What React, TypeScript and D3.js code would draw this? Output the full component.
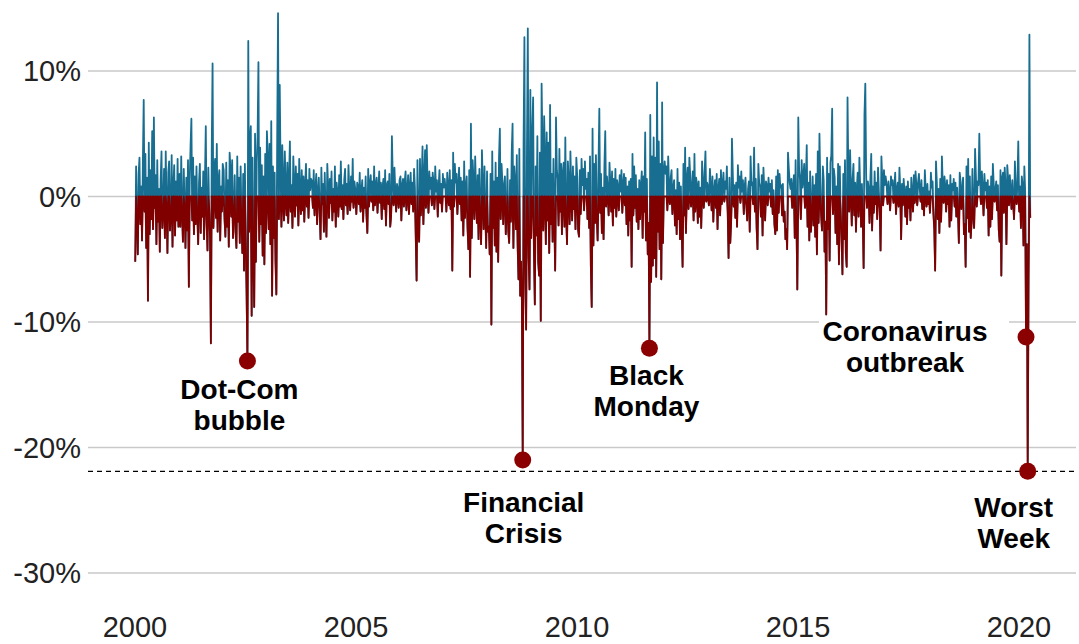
import React from "react";
import * as d3 from "d3";

// ---------- data (weekly returns, %) ----------
const yearTicks = [2000, 2005, 2010, 2015, 2020];
const pctTicks = [10, 0, -10, -20, -30];

const r2000 = [-5.2, 2.4, -1.5, -4.6, 1.8, 3.1, -2.2, 0.8, -3.5, 2.7, 7.7, -1.2, 3.4, -4.1, 1.5, -8.3, 4.3, -3.0, 2.1, -1.8, 5.2, -2.6, 6.3, -0.9, 1.7, -3.8, 2.9, -2.0, 0.6, -4.4, 1.3, 3.6, -2.5, -1.1, 2.2, -3.3, 3.6, -0.7, -4.5, 1.9, 2.8, -2.7, -1.4, 3.3, -4.0, 0.9, 2.5, -3.1, 1.2, -1.9, 3.0, -2.4];
const r2001 = [1.8, -2.4, 3.2, -1.1, -3.6, 2.2, -0.8, -4.1, 1.5, -2.7, 2.9, -7.2, 1.2, 4.0, 6.2, -1.9, 3.1, -3.0, 1.6, -2.2, 2.4, -1.4, -3.8, 1.1, 2.6, -2.9, 0.7, -1.6, 2.0, -3.4, 1.4, 5.6, -2.1, -4.3, 2.3, -1.0, -3.2, -11.7, 3.6, 10.6, -2.5, 1.9, 3.0, -1.7, 4.2, -2.8, 1.3, 2.1, -3.5, 0.8, -1.2, 2.6];
const r2002 = [2.1, -1.8, -3.2, 2.7, -2.4, 1.3, -4.0, 3.5, 2.2, -1.6, 2.9, -3.3, -1.2, 1.7, -2.8, -4.1, 3.2, -2.0, 1.5, -3.7, 2.4, -1.9, -4.5, 1.8, -5.9, 2.6, -3.5, -7.6, -13.1, 12.4, -2.8, 4.5, 5.6, -9.5, 3.1, -4.4, -8.8, 5.0, -5.2, 2.7, 4.8, 10.7, -3.6, 3.9, -2.2, 2.5, -4.7, 1.6, -5.4, 3.4, -2.9, 5.2];
const r2003 = [3.1, -2.6, 4.2, -3.8, 6.0, -7.9, 2.4, -3.3, 1.9, -5.1, -7.8, 4.6, 14.6, -1.8, 8.9, 2.3, -2.4, 4.1, 1.2, -1.9, 3.6, 0.8, -1.5, 2.7, -2.1, 1.4, 4.4, -1.2, 0.9, -2.5, 3.2, 1.1, -1.6, 2.4, -0.7, 1.8, -2.3, 3.0, 0.6, -1.4, 2.1, -1.1, 1.6, -2.0, 0.9, 2.6, -0.8, 1.3, -1.7, 2.2, 0.5, 1.4];
const r2004 = [1.2, -0.9, 2.1, -1.5, 0.7, 1.8, -2.2, 0.4, 1.5, -1.1, -3.4, 2.3, -0.6, 1.0, -2.8, 1.9, -1.3, -3.2, 2.6, 0.8, -1.7, 1.4, -0.5, 2.0, -1.9, 0.6, -1.2, 2.4, -2.4, 1.1, 0.3, -1.6, 1.7, -0.8, 2.8, -1.0, 0.9, -1.8, 1.3, 2.2, -0.7, 1.0, -1.4, 2.5, 0.5, -1.1, 1.6, -0.4, 3.0, -0.9, 1.2, 0.6];
const r2005 = [-1.4, 1.1, 0.8, -0.6, 1.9, -1.2, 0.5, 1.3, -2.0, 0.7, -0.9, 1.6, -1.5, -2.9, 2.2, -0.8, 1.0, 1.7, -0.4, 1.2, -1.1, 2.4, -0.7, 0.9, 1.5, -1.3, 0.6, 2.0, -0.5, 1.1, -1.8, 0.8, 1.4, -1.0, 2.1, -2.3, 0.9, 1.2, -0.6, 1.8, -2.4, -1.6, 4.8, 1.5, -0.7, 2.3, 0.4, -1.2, 1.0, 0.6, -0.9, 1.3];
const r2006 = [1.6, -1.9, 0.9, 1.4, -0.8, 1.2, 2.0, -1.1, 0.5, 1.7, -1.4, 0.8, 1.9, -0.6, 1.1, -1.2, 2.2, 0.7, -3.2, -6.7, 2.9, -2.5, -3.6, 3.0, -1.5, 1.2, 4.0, -2.2, 1.6, 3.7, -0.9, 4.1, 1.0, -1.3, 2.0, 0.6, 1.5, -0.7, 1.9, 1.1, -1.0, 2.4, 0.4, 1.3, -1.6, 0.8, 2.1, -0.5, 1.0, -1.2, 1.8, 0.7];
const r2007 = [1.4, 0.6, -1.2, 1.9, 0.8, -0.7, 2.1, -1.0, 1.3, -5.9, 3.5, -0.8, 2.6, 1.1, 1.8, -1.4, 0.9, 2.3, -0.6, 1.5, -1.9, 1.2, -3.1, 2.8, -1.7, 0.7, 1.6, -2.5, -4.2, 2.1, -6.4, 5.8, -3.3, 2.9, 1.4, -1.8, 3.2, 0.5, -2.1, 1.7, -3.4, 2.2, -1.3, -3.8, 3.7, 1.0, -2.6, 2.4, -1.5, -4.1, 2.0, -2.8];
const r2008 = [-2.4, -4.6, 1.8, -10.2, 3.6, -2.5, 1.2, -3.9, 2.7, -4.4, 1.5, -5.2, 3.1, 5.4, -1.8, 2.6, 1.1, -2.2, 0.9, 1.6, -3.0, -1.4, 2.2, -2.8, -3.7, 1.3, -2.0, 3.5, 5.8, -4.1, 2.4, 1.2, -2.6, 3.3, -3.9, -6.6, 3.8, -7.9, -5.2, -8.3, -21.0, 4.2, 12.7, -6.5, -10.6, 3.7, 13.4, -4.8, -7.4, 8.5, -3.3, 4.6];
const r2009 = [7.9, -4.5, -8.6, 2.4, -3.1, 4.8, -5.2, -6.3, 3.5, -9.9, 9.0, 4.1, -2.7, 6.4, 3.2, -3.8, 5.1, -1.9, 4.3, -4.5, 7.3, -2.2, 1.8, -3.6, 3.0, -1.6, -5.9, 6.3, 2.1, 1.4, -2.3, 3.8, -1.2, 2.6, -3.0, 1.9, 2.7, -2.4, 4.7, -1.5, -3.8, 2.8, 1.3, -2.2, 3.6, 0.8, -1.9, 2.4, -1.0, 1.6, -2.6, 3.1];
const r2010 = [1.5, -2.7, -3.2, 2.1, -1.4, 3.0, 0.9, 2.2, -1.1, 2.8, 0.6, 1.4, -1.8, 1.9, -2.5, 3.2, -5.6, -8.8, 5.4, -3.9, 2.6, -2.1, 3.3, -1.7, -3.5, 2.3, 7.0, -1.3, 1.8, -2.9, 0.7, -3.4, 2.4, 5.2, -0.8, 1.6, 0.5, -1.5, 2.7, 1.1, -1.2, 2.0, -2.3, 1.4, -0.9, 2.2, -1.6, 1.3, 0.8, -1.1, 1.7, 0.4];
const r2011 = [2.1, -1.3, 1.0, 1.8, -0.7, 1.5, -2.2, 0.8, -3.1, 1.2, -1.9, 1.4, -5.6, 3.4, -1.5, 2.4, -0.9, 1.7, -2.0, 0.6, -2.6, 1.3, -1.8, 0.9, 2.0, -3.3, 1.6, -1.2, 5.1, -3.5, 1.4, -4.6, -2.1, -12.1, 6.5, -6.8, 3.2, -5.5, 4.7, -4.9, 3.1, -6.4, 9.1, -2.8, 4.4, -4.2, 2.6, -6.6, 7.5, -3.7, 1.9, 2.8];
const r2012 = [1.8, 2.4, -1.1, 3.2, 0.9, -0.6, 1.5, 2.1, -1.4, 0.7, 1.3, -2.3, 0.5, -3.0, 2.2, -1.8, 1.1, -3.4, 0.8, -2.7, -5.6, 2.6, -1.5, 3.9, -2.9, 1.4, 2.3, -1.0, 3.1, 1.7, -0.8, 0.6, 2.0, -1.9, 3.4, -1.2, 1.5, 0.9, -2.1, 1.2, -1.6, 0.7, -2.5, 2.8, 1.0, -0.9, 1.9, 3.6, -0.4, 1.1, 0.8, -0.7];
const r2013 = [2.2, 0.8, -1.1, 1.6, -2.0, 0.5, 1.3, -0.9, 1.8, -2.6, 0.7, 1.4, -1.5, 2.1, -0.6, 1.0, 1.9, -0.4, 1.2, 0.6, 2.4, -1.3, -4.9, 1.5, -3.7, -2.1, 4.6, 1.8, -0.8, 0.9, -1.7, 1.1, -2.4, 2.5, 0.7, 1.6, -0.5, 2.0, 0.4, 1.3, -1.4, 0.8, 1.5, -0.7, -1.9, 0.6, 1.2, -2.8, 3.2, 0.9, 1.1, -0.6];
const r2014 = [3.9, -1.2, 1.4, -2.5, -4.2, 2.6, 1.1, 0.8, -1.6, 1.7, -3.1, 2.3, 0.6, -1.9, 1.2, 0.9, -0.7, 1.5, 0.4, 1.0, -0.8, 1.3, -1.4, 0.5, -2.2, -3.0, 1.6, -2.7, 2.1, -1.3, 1.8, 0.7, 0.9, -1.5, 1.0, -2.0, -1.2, -3.4, -2.6, -4.2, 3.5, 2.2, 1.1, 0.6, 1.4, -0.9, 0.8, 1.7, -3.3, 2.9, -1.8, -7.4];
const r2015 = [6.3, 2.1, 1.4, -1.8, 2.9, 0.7, 1.5, 2.6, -0.9, 1.3, 4.1, -2.4, 1.1, -3.5, 2.0, -2.8, -1.2, 1.6, -2.3, 0.9, -3.2, 1.8, -4.6, 3.6, -2.1, 5.0, 1.2, -1.5, -2.7, 2.4, 1.3, -4.4, -2.0, -9.4, 3.1, -2.6, 1.8, -5.1, 2.7, 3.3, 7.0, -1.4, 2.2, 1.5, -2.9, 0.8, -3.8, 2.6, -5.4, 2.4, -1.1, -3.2];
const r2016 = [-6.2, 1.8, -3.4, 2.9, -4.5, -5.6, 7.9, 1.6, -1.2, 3.7, 0.9, -2.3, 1.4, 2.6, -1.5, 1.1, -2.8, 0.7, 1.9, -1.6, 3.1, 0.5, -2.4, 1.0, -1.7, -5.7, 6.5, 9.0, 1.7, -0.9, 1.2, 0.6, -2.1, 1.5, 3.4, -2.7, 0.8, -1.3, 2.0, -0.6, 1.1, -1.8, 2.3, 0.4, -1.0, -4.3, 3.2, 1.4, -0.7, 2.1, 0.9, 1.6];
const r2017 = [0.8, -0.6, 1.2, 0.4, -1.1, 1.6, 0.9, 1.3, -0.5, 0.7, 1.9, -1.4, 0.6, 1.1, -0.8, 2.3, 0.5, -3.4, 1.0, -0.7, 1.4, 0.3, -1.6, 0.8, -2.2, 1.2, -0.9, 0.6, -1.9, 1.5, 0.4, -1.2, 1.7, -0.5, 2.0, 0.9, -0.7, 1.1, 1.8, 0.6, -0.4, 1.3, -1.0, 0.7, -1.5, 2.1, 0.5, -0.8, 1.0, -0.6, 0.4, -1.3];
const r2018 = [1.9, 0.7, 1.2, -1.4, -2.6, -5.9, 2.8, 1.1, -1.8, 0.6, -2.9, 1.4, -2.0, 3.2, 0.9, -0.5, 1.6, 0.8, -1.2, 1.3, -0.6, 0.9, -2.4, 1.7, -1.9, 1.0, 0.5, 1.4, -0.8, 1.1, -1.6, 0.7, -1.3, -3.7, 1.9, 1.2, -1.0, 0.6, 1.5, -3.0, -2.2, -5.6, 2.4, -1.7, 3.0, -2.8, 1.6, -3.3, -2.1, 2.2, -1.5, -2.5];
const r2019 = [3.8, 1.6, -0.8, 1.2, 0.9, 5.0, 1.4, -0.6, 2.0, 0.7, -1.5, 1.8, 0.5, 1.1, -0.9, 1.3, -3.1, 0.8, -2.4, 1.6, -1.8, 2.6, 1.0, -0.4, 0.6, 1.2, -1.1, 0.9, -2.7, -3.6, 2.1, -6.3, 1.5, 1.9, -1.3, 2.3, 0.8, -3.8, 2.5, 1.4, -0.7, 1.7, 0.6, -1.0, 1.3, -0.5, -1.8, 2.8, 0.9, -0.6, 1.1, 4.4];
const r2020 = [-1.2, 0.8, -2.5, 1.6, 0.9, -3.9, 2.4, 0.4, -11.2, -3.8, -21.9, -6.5, 12.9, -1.7];

const seriesByYear: [number, number[]][] = [
  [2000, r2000], [2001, r2001], [2002, r2002], [2003, r2003], [2004, r2004],
  [2005, r2005], [2006, r2006], [2007, r2007], [2008, r2008], [2009, r2009],
  [2010, r2010], [2011, r2011], [2012, r2012], [2013, r2013], [2014, r2014],
  [2015, r2015], [2016, r2016], [2017, r2017], [2018, r2018], [2019, r2019],
  [2020, r2020],
];

const eventLabels = [
  ["Dot-Com", "bubble"],
  ["Financial", "Crisis"],
  ["Black", "Monday"],
  ["Coronavirus", "outbreak"],
  ["Worst", "Week"],
];
const eventYears = [2002, 2008, 2011, 2020, 2020];
const eventWeeks = [28, 40, 33, 8, 10];

// ---------- layout ----------
const W = 1079;
const H = 644;
const labelLayout = [
  { dx: -8, dy: 38, b0: -66, b1: 66 },
  { dx: 1, dy: 52, b0: -70, b1: 70 },
  { dx: -3, dy: 37, b0: -60, b1: 60 },
  { dx: -121, dy: 4, b0: -86, b1: 104 },
  { dx: -14, dy: 46, b0: -42, b1: 42 },
];
const BLUE = "#186e91";
const RED = "#800000";
const DOT = "#8b0000";
const FONT = "'Liberation Sans', Arial, Helvetica, sans-serif";

type Pt = { date: Date; v: number };

export default function App() {
  const points: Pt[] = [];
  seriesByYear.forEach(([yr, vals]) => {
    vals.forEach((v, i) => points.push({ date: new Date(yr, 0, 3 + 7 * i), v }));
  });

  const x = d3.scaleTime()
    .domain([new Date(2000, 0, 1), new Date(2020, 0, 1)])
    .range([135, 1019]);
  const y = d3.scaleLinear().domain([-30, 10]).range([573, 71]);

  const minV = d3.min(points, (d) => d.v) as number;

  const fullLine = d3.line<Pt>().x((d) => x(d.date)).y((d) => y(d.v));
  const negLine = d3.line<Pt>().x((d) => x(d.date)).y((d) => y(Math.min(d.v, 0)));

  const events = eventLabels.map((lab, k) => {
    const yr = eventYears[k];
    const wk = eventWeeks[k];
    const vals = seriesByYear.find((s) => s[0] === yr)![1];
    return { lab, date: new Date(yr, 0, 3 + 7 * wk), v: vals[wk], lay: labelLayout[k] };
  });

  return (
    <svg
      width={W}
      height={H}
      style={{ position: "absolute", left: 0, top: 0, background: "#fff" }}
      fontFamily={FONT}
    >
      {pctTicks.map((t) => (
        <g key={t}>
          <line x1={88} x2={1076} y1={y(t)} y2={y(t)} stroke="#c9c9c9" strokeWidth={1.3} />
          <text x={81} y={y(t)} dy="0.36em" textAnchor="end" fontSize={29} fill="#222">
            {`${t}%`}
          </text>
        </g>
      ))}
      {yearTicks.map((yr) => (
        <text
          key={yr}
          x={x(new Date(yr, 0, 1))}
          y={637}
          textAnchor="middle"
          fontSize={29}
          fill="#222"
        >
          {yr}
        </text>
      ))}
      <line
        x1={88}
        x2={1076}
        y1={y(minV)}
        y2={y(minV)}
        stroke="#000"
        strokeWidth={1.2}
        strokeDasharray="5,4"
      />
      <path d={fullLine(points) || ""} fill="none" stroke={BLUE} strokeWidth={1.8} strokeLinejoin="round" />
      <path d={negLine(points) || ""} fill="none" stroke={RED} strokeWidth={1.8} strokeLinejoin="round" />
      {events.map((e, k) => {
        const cx = x(e.date);
        const cy = y(e.v);
        const lx = cx + e.lay.dx;
        const ly = cy + e.lay.dy;
        return (
          <g key={"l" + k}>
            <rect
              x={lx + e.lay.b0}
              y={ly - 24}
              width={e.lay.b1 - e.lay.b0}
              height={66}
              fill="#fff"
            />
            <text x={lx} y={ly} textAnchor="middle" fontSize={28} fontWeight="bold" fill="#000">
              <tspan x={lx} dy={0}>{e.lab[0]}</tspan>
              <tspan x={lx} dy={31}>{e.lab[1]}</tspan>
            </text>
          </g>
        );
      })}
      {events.map((e, k) => (
        <circle key={"c" + k} cx={x(e.date)} cy={y(e.v)} r={8.5} fill={DOT} />
      ))}
    </svg>
  );
}
